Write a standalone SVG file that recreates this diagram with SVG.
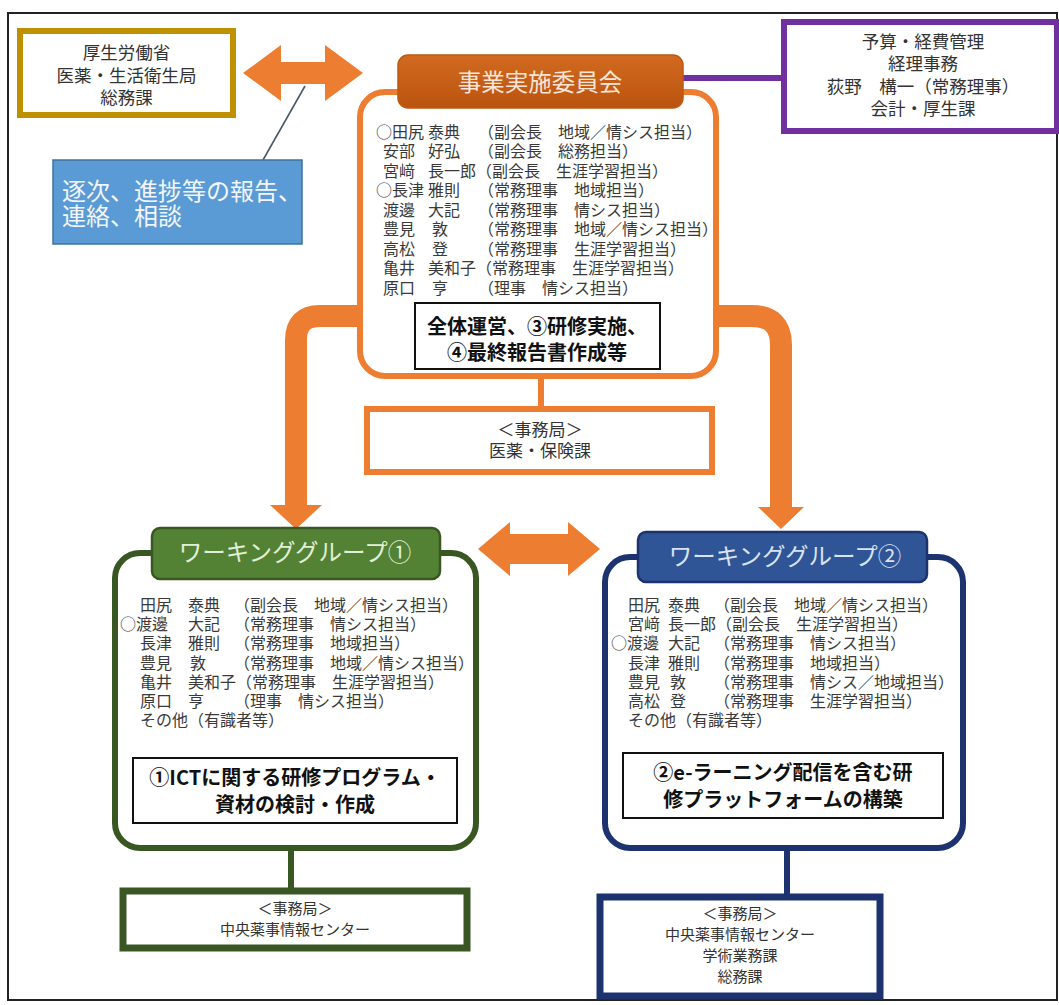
<svg xmlns="http://www.w3.org/2000/svg" width="1059" height="1005" viewBox="0 0 1059 1005">
<defs>
<linearGradient id="gOr" x1="0" y1="0" x2="0" y2="1">
<stop offset="0" stop-color="#D26A20"/>
<stop offset="1" stop-color="#BA530E"/>
</linearGradient>
<style>
text{font-family:"Noto Sans CJK JP","Noto Sans",sans-serif;}
.m{font-size:16px;fill:#3a3a3a;}
.c{text-anchor:middle;}
.lbl{font-size:17px;fill:#333;}
.sm{font-size:15px;fill:#333;}
.bold{font-size:20px;font-weight:bold;fill:#111;text-anchor:middle;}
.bx{fill:#fff;stroke:#111;stroke-width:2;}
.orf{fill:#ED7D31;}
</style>
</defs>
<rect x="8" y="13" width="1049" height="987" fill="#fff" stroke="#222" stroke-width="2"/>

<g id="connectors">
<polygon class="orf" points="243,73 281,45 281,62 325,62 325,45 363,73 325,101 325,84 281,84 281,101"/>
<line x1="305" y1="86" x2="263" y2="160" stroke="#4A5868" stroke-width="1.6"/>
<line x1="683" y1="78" x2="784" y2="78" stroke="#7030A0" stroke-width="6"/>
<path d="M362 316 H320 Q296 316 296 340 V507" fill="none" stroke="#ED7D31" stroke-width="22"/>
<polygon class="orf" points="270,505 322,505 296,529"/>
<path d="M716 316 H752 Q781 316 781 345 V508" fill="none" stroke="#ED7D31" stroke-width="22"/>
<polygon class="orf" points="758,507 804,507 781,529"/>
<line x1="541" y1="376" x2="541" y2="409" stroke="#ED7D31" stroke-width="6"/>
<polygon class="orf" points="478,549 510,522 510,534 568,534 568,522 600,549 568,576 568,564 510,564 510,576"/>
<line x1="291" y1="848" x2="291" y2="891" stroke="#385723" stroke-width="6"/>
<line x1="787" y1="848" x2="787" y2="897" stroke="#1C3370" stroke-width="6"/>
</g>

<g id="mhlw">
<rect x="20" y="31" width="213" height="84" fill="#fff" stroke="#BF9000" stroke-width="6"/>
<text class="c" font-size="17.5" fill="#333"><tspan x="126.5" y="59">厚生労働省</tspan><tspan x="126.5" y="82">医薬・生活衛生局</tspan><tspan x="126.5" y="104">総務課</tspan></text>
</g>

<g id="note">
<rect x="53" y="160" width="249" height="84" fill="#5B9BD5" stroke="#41719C" stroke-width="1.5"/>
<text font-size="24" fill="#F2F6FC"><tspan x="62" y="200">逐次、進捗等の報告、</tspan><tspan x="62" y="225">連絡、相談</tspan></text>
</g>

<g id="budget">
<rect x="784" y="22" width="273" height="109" fill="#fff" stroke="#7030A0" stroke-width="6"/>
<text class="c" font-size="17.5" fill="#333"><tspan x="923" y="48">予算・経費管理</tspan><tspan x="923" y="70">経理事務</tspan><tspan x="923" y="93">荻野　構一（常務理事）</tspan><tspan x="923" y="115">会計・厚生課</tspan></text>
</g>

<g id="committee">
<rect x="360" y="92" width="356" height="284" rx="25" fill="#fff" stroke="#ED7D31" stroke-width="6"/>
<rect x="398" y="55" width="285" height="53" rx="10" fill="url(#gOr)" stroke="#C0580F" stroke-width="1.5"/>
<text class="c" x="540" y="91" font-size="23.5" fill="#FBE5D6">事業実施委員会</text>
<text class="m"><tspan x="376" y="137.5">○</tspan><tspan x="392">田尻</tspan><tspan x="428">泰典</tspan><tspan x="478">（副会長　地域／情シス担当）</tspan><tspan x="383" y="157">安部</tspan><tspan x="428">好弘</tspan><tspan x="478">（副会長　総務担当）</tspan><tspan x="383" y="176.5">宮﨑</tspan><tspan x="428">長一郎</tspan><tspan x="476">（副会長　生涯学習担当）</tspan><tspan x="376" y="196">○</tspan><tspan x="392">長津</tspan><tspan x="428">雅則</tspan><tspan x="478">（常務理事　地域担当）</tspan><tspan x="383" y="215.5">渡邊</tspan><tspan x="428">大記</tspan><tspan x="478">（常務理事　情シス担当）</tspan><tspan x="383" y="235">豊見</tspan><tspan x="432">敦</tspan><tspan x="478">（常務理事　地域／情シス担当）</tspan><tspan x="383" y="254.5">高松</tspan><tspan x="432">登</tspan><tspan x="478">（常務理事　生涯学習担当）</tspan><tspan x="383" y="274">亀井</tspan><tspan x="428">美和子</tspan><tspan x="476">（常務理事　生涯学習担当）</tspan><tspan x="383" y="293.5">原口</tspan><tspan x="432">亨</tspan><tspan x="478">（理事　情シス担当）</tspan></text>
<rect class="bx" x="415" y="303" width="245" height="66"/>
<text class="bold"><tspan x="537" y="334">全体運営、③研修実施、</tspan><tspan x="537" y="360">④最終報告書作成等</tspan></text>
</g>

<g id="secretariat">
<rect x="367" y="409" width="345" height="63" fill="#fff" stroke="#ED7D31" stroke-width="6"/>
<text class="c lbl"><tspan x="540" y="436">＜事務局＞</tspan><tspan x="540" y="457">医薬・保険課</tspan></text>
</g>

<g id="wg1">
<rect x="115" y="553" width="361" height="295" rx="25" fill="#fff" stroke="#385723" stroke-width="6"/>
<rect x="152" y="528" width="288" height="51" rx="8" fill="#548235" stroke="#385723" stroke-width="2.5"/>
<text class="c" x="295" y="561" font-size="23.5" fill="#E2F0D9">ワーキンググループ①</text>
<text class="m"><tspan x="140" y="610.6">田尻</tspan><tspan x="188">泰典</tspan><tspan x="234">（副会長　地域／情シス担当）</tspan><tspan x="120" y="629.9">○</tspan><tspan x="136">渡邊</tspan><tspan x="188">大記</tspan><tspan x="234">（常務理事　情シス担当）</tspan><tspan x="140" y="649.2">長津</tspan><tspan x="188">雅則</tspan><tspan x="234">（常務理事　地域担当）</tspan><tspan x="140" y="668.5">豊見</tspan><tspan x="190">敦</tspan><tspan x="234">（常務理事　地域／情シス担当）</tspan><tspan x="140" y="687.8">亀井</tspan><tspan x="188">美和子</tspan><tspan x="236">（常務理事　生涯学習担当）</tspan><tspan x="140" y="707.1">原口</tspan><tspan x="188">亨</tspan><tspan x="234">（理事　情シス担当）</tspan><tspan x="140" y="726.4">その他（有識者等）</tspan></text>
<rect class="bx" x="133" y="758" width="324" height="65"/>
<text class="bold" font-size="21"><tspan x="295" y="785">①ICTに関する研修プログラム・</tspan><tspan x="295" y="812">資材の検討・作成</tspan></text>
</g>

<g id="wg1-secretariat">
<rect x="123" y="891" width="344" height="57" fill="#fff" stroke="#385723" stroke-width="7"/>
<text class="c sm"><tspan x="295" y="914">＜事務局＞</tspan><tspan x="295" y="935">中央薬事情報センター</tspan></text>
</g>

<g id="wg2">
<rect x="605" y="557" width="358" height="291" rx="25" fill="#fff" stroke="#1C3370" stroke-width="6"/>
<rect x="638" y="532" width="289" height="50" rx="8" fill="#2F5597" stroke="#1C3370" stroke-width="2.5"/>
<text class="c" x="785" y="565" font-size="23.5" fill="#DAE3F3">ワーキンググループ②</text>
<text class="m"><tspan x="628" y="610.6">田尻</tspan><tspan x="668">泰典</tspan><tspan x="714">（副会長　地域／情シス担当）</tspan><tspan x="628" y="629.9">宮﨑</tspan><tspan x="668">長一郎</tspan><tspan x="716">（副会長　生涯学習担当）</tspan><tspan x="611" y="649.2">○</tspan><tspan x="627">渡邊</tspan><tspan x="668">大記</tspan><tspan x="714">（常務理事　情シス担当）</tspan><tspan x="628" y="668.5">長津</tspan><tspan x="668">雅則</tspan><tspan x="714">（常務理事　地域担当）</tspan><tspan x="628" y="687.8">豊見</tspan><tspan x="670">敦</tspan><tspan x="714">（常務理事　情シス／地域担当）</tspan><tspan x="628" y="707.1">高松</tspan><tspan x="670">登</tspan><tspan x="714">（常務理事　生涯学習担当）</tspan><tspan x="628" y="726.4">その他（有識者等）</tspan></text>
<rect class="bx" x="623" y="753" width="320" height="65"/>
<text class="bold" font-size="21"><tspan x="783" y="780">②e-ラーニング配信を含む研</tspan><tspan x="783" y="807">修プラットフォームの構築</tspan></text>
</g>

<g id="wg2-secretariat">
<rect x="600" y="897" width="280" height="99" fill="#fff" stroke="#1C3370" stroke-width="7"/>
<text class="c sm"><tspan x="740" y="919">＜事務局＞</tspan><tspan x="740" y="940">中央薬事情報センター</tspan><tspan x="740" y="961">学術業務課</tspan><tspan x="740" y="982">総務課</tspan></text>
</g>
</svg>
